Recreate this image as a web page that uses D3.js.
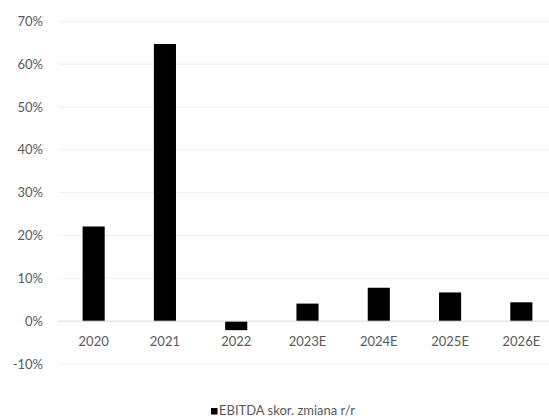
<!DOCTYPE html>
<html><head><meta charset="utf-8">
<script src="https://cdn.jsdelivr.net/npm/d3@7"></script>
<style>body{margin:0;background:#fff}svg{display:block}</style>
</head><body>
<script>
const categories = ["2020","2021","2022","2023E","2024E","2025E","2026E"];
const values = [0.221, 0.647, -0.021, 0.041, 0.078, 0.067, 0.044];
const yTicks = [-0.1,0,0.1,0.2,0.3,0.4,0.5,0.6,0.7];
const seriesName = "EBITDA skor. zmiana r/r";

const W = 549, H = 418;
const font = "Lato, 'Open Sans', sans-serif";
const svg = d3.select("body").append("svg").attr("width", W).attr("height", H);

const y = d3.scaleLinear().domain([-0.1, 0.7]).range([364, 21.3]);
const x = d3.scaleBand().domain(categories).range([58, 557]).paddingInner(0.69).paddingOuter(0.345);

// gridlines
svg.append("g").selectAll("line").data(yTicks.filter(d => d !== 0)).join("line")
  .attr("x1", 58).attr("x2", 549)
  .attr("y1", d => y(d)).attr("y2", d => y(d))
  .attr("stroke", "#efefef").attr("stroke-width", 1);

// y labels
svg.append("g").selectAll("text").data(yTicks).join("text")
  .attr("x", 43).attr("y", d => y(d)).attr("dy", "0.35em")
  .attr("text-anchor", "end")
  .attr("font-family", font).attr("font-size", 13).attr("fill", "#595959")
  .text(d => Math.round(d * 100) + "%");

// bars
svg.append("g").selectAll("rect").data(values).join("rect")
  .attr("x", (d, i) => x(categories[i]))
  .attr("width", x.bandwidth())
  .attr("y", d => y(Math.max(0, d)))
  .attr("height", d => Math.abs(y(d) - y(0)))
  .attr("fill", "#000");

// zero axis
svg.append("line").attr("x1", 58).attr("x2", 549)
  .attr("y1", y(0)).attr("y2", y(0))
  .attr("stroke", "#d9d9d9").attr("stroke-width", 1);

// x labels
svg.append("g").selectAll("text").data(categories).join("text")
  .attr("x", d => x(d) + x.bandwidth() / 2).attr("y", 346)
  .attr("text-anchor", "middle")
  .attr("font-family", font).attr("font-size", 13).attr("fill", "#595959")
  .text(d => d);

// legend
const lg = svg.append("g");
lg.append("rect").attr("x", 211).attr("y", 408).attr("width", 6.5).attr("height", 6.5).attr("fill", "#000");
lg.append("text").attr("x", 219).attr("y", 414.5)
  .attr("font-family", font).attr("font-size", 13).attr("fill", "#595959")
  .text(seriesName);
</script>
</body></html>
